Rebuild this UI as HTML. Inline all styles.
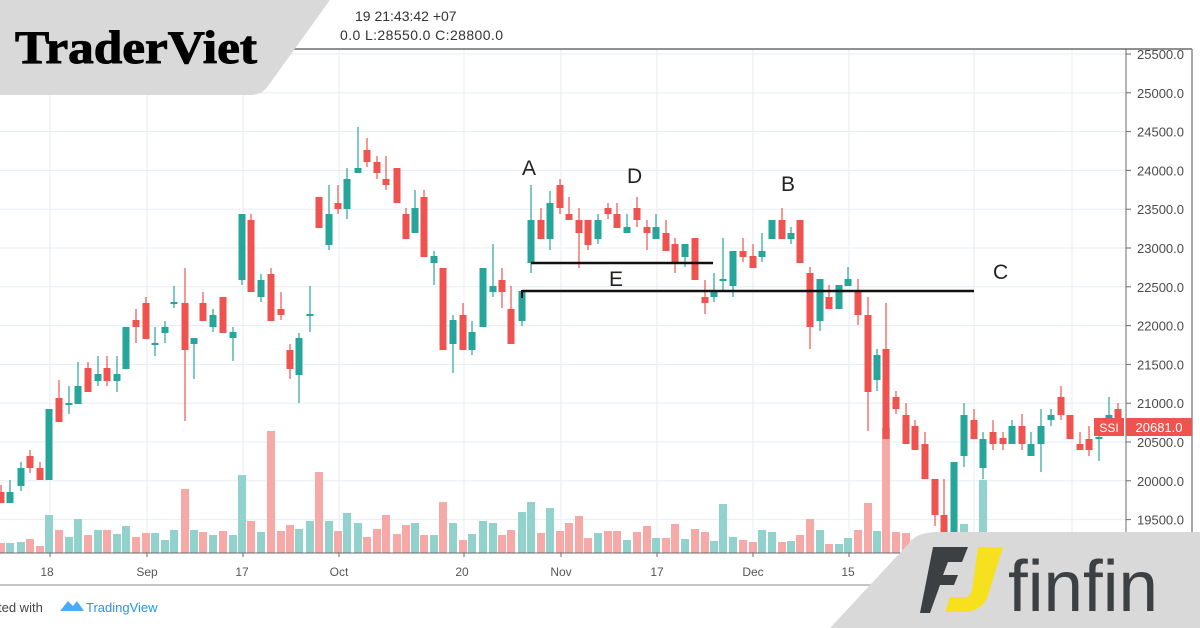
<!DOCTYPE html>
<html><head><meta charset="utf-8"><style>
html,body{margin:0;padding:0;background:#fff;width:1200px;height:628px;overflow:hidden;font-family:"Liberation Sans",sans-serif}
</style></head><body>
<svg id="s" width="1200" height="628" xmlns="http://www.w3.org/2000/svg" style="position:absolute;left:0;top:0">
<g id="grid" stroke="#e6edf2" stroke-width="1"></g>
<g id="vol"></g>
<g id="cnd"></g>
<line x1="280" y1="49" x2="1192" y2="49" stroke="#6b6b6b" stroke-width="1.5"/>
<line x1="1192" y1="49" x2="1192" y2="585" stroke="#8a8a8a" stroke-width="1.5"/>
<line x1="1126" y1="49" x2="1126" y2="585" stroke="#6b6b6b" stroke-width="1"/>
<line x1="0" y1="553" x2="1126" y2="553" stroke="#6b6b6b" stroke-width="1"/>
<line x1="0" y1="585" x2="1192" y2="585" stroke="#8a8a8a" stroke-width="1"/>
<g id="axis" font-family="Liberation Sans, sans-serif" font-size="13" fill="#4a4a4a"></g>
<g font-family="Liberation Sans, sans-serif" font-size="12" fill="#555" text-anchor="middle">
<text x="47" y="576">18</text><text x="147" y="576">Sep</text><text x="242" y="576">17</text><text x="339" y="576">Oct</text><text x="462" y="576">20</text><text x="561" y="576">Nov</text><text x="657" y="576">17</text><text x="753" y="576">Dec</text><text x="848" y="576">15</text>
</g>
<line x1="531" y1="263" x2="713" y2="263" stroke="#111" stroke-width="2.5"/>
<line x1="522" y1="291" x2="974" y2="291" stroke="#111" stroke-width="2.5"/>
<line x1="522" y1="290" x2="522" y2="298" stroke="#111" stroke-width="2"/>
<g font-family="Liberation Sans, sans-serif" font-size="21" fill="#222">
<text x="522" y="175">A</text><text x="627" y="183">D</text><text x="781" y="191">B</text><text x="609" y="286">E</text><text x="993" y="279">C</text>
</g>
<rect x="1094" y="418" width="30" height="18" fill="#ef5350"/>
<text x="1109" y="432" font-size="12" fill="#fff" text-anchor="middle" font-family="Liberation Sans, sans-serif">SSI</text>
<rect x="1126" y="418" width="66" height="18" fill="#ef5350"/>
<text x="1159" y="432" font-size="13" fill="#fff" text-anchor="middle" font-family="Liberation Sans, sans-serif">20681.0</text>
<text x="355" y="21" font-size="14" fill="#333" font-family="Liberation Sans, sans-serif">19 21:43:42 +07</text>
<text x="340" y="40" font-size="14" fill="#333" font-family="Liberation Sans, sans-serif" textLength="163">0.0 L:28550.0 C:28800.0</text>
<path d="M0 0 L330 0 L268 86 Q262 95 250 95 L0 95 Z" fill="#d9d9d9"/>
<text x="15" y="63" font-family="Liberation Serif, serif" font-weight="bold" font-size="47" fill="#000" stroke="#000" stroke-width="1" textLength="242" lengthAdjust="spacingAndGlyphs">TraderViet</text>
<text x="-2" y="612" font-size="13" fill="#444" font-family="Liberation Sans, sans-serif">ted with</text>
<path d="M60 611 L68 601 L73 606 L77 601 L84 611 Z" fill="#2196f3" opacity="0.8"/>
<text x="86" y="612" font-size="13" fill="#2196f3" font-family="Liberation Sans, sans-serif">TradingView</text>
<path d="M830 628 L912 540 Q918 533 935 532 L1200 532 L1200 628 Z" fill="#d9d9d9"/>
<path d="M933 547 L968 547 L962 562 L948 562 L943 575 L958 575 L954 585 L940 585 L930 613 L920 613 Z" fill="#3d4043"/>
<path d="M978 547 L1003 547 L988 595 Q984 610 965 612 L945 612 L950 597 L965 597 Q970 597 972 590 Z" fill="#f7e11e"/>
<text x="1008" y="611" font-family="Liberation Sans, sans-serif" font-size="72" fill="#3d4043" textLength="150" lengthAdjust="spacingAndGlyphs">finfin</text>
</svg>
<script>
var NS="http://www.w3.org/2000/svg";
function el(p,t,a){var e=document.createElementNS(NS,t);for(var k in a)e.setAttribute(k,a[k]);p.appendChild(e);return e;}
var grid=document.getElementById("grid"),axis=document.getElementById("axis");
for(var i=0;i<13;i++){var p=25500-i*500;var y=54+(25500-p)*0.0776;
 el(grid,"line",{x1:0,x2:1126,y1:y,y2:y});
 el(axis,"line",{x1:1126,x2:1131,y1:y,y2:y,stroke:"#6b6b6b"});
 var t=el(axis,"text",{x:1137,y:y+5});t.textContent=p.toFixed(1);}
[50,147,243,339,464,561,657,753,849,974,1072].forEach(function(x){el(grid,"line",{x1:x,x2:x,y1:49,y2:553});
 el(axis,"line",{x1:x,x2:x,y1:553,y2:557,stroke:"#6b6b6b"});});
var D=[[1,492,503,485,503,0],[10,492,503,480,503,1],[21,468,486,462,491,1],[30,456,468,450,473,0],[40,468,480,462,480,0],[49,409,480,409,480,1],[59,398,422,380,422,0],[69,403,405,386,414,1],[78,386,404,362,404,1],[88,368,392,362,392,0],[98,374,381,356,386,1],[107,368,381,356,386,0],[117,374,381,356,392,1],[126,327,369,327,369,1],[136,320,327,309,343,0],[146,303,339,297,339,0],[155,343,345,327,356,1],[165,327,333,321,343,1],[174,302,304,286,308,1],[185,303,350,268,421,0],[194,338,344,338,379,1],[203,303,321,292,321,0],[213,315,327,309,332,1],[223,297,333,297,333,0],[233,332,338,327,361,1],[242,214,280,214,285,1],[251,220,292,214,292,0],[261,280,297,274,302,1],[271,274,321,268,321,0],[281,309,315,292,320,0],[290,350,369,344,379,0],[299,338,375,333,403,1],[310,314,316,286,332,1],[319,197,228,197,228,0],[329,214,245,185,250,1],[338,203,209,185,214,0],[347,179,209,168,219,1],[358,168,173,127,173,1],[367,150,162,138,167,0],[377,162,173,156,179,0],[386,179,185,156,190,0],[397,168,203,168,203,0],
[406,214,239,208,239,0],[415,208,233,190,233,1],[424,197,257,190,257,0],[434,256,263,251,285,1],[443,268,350,268,350,0],[453,320,344,315,373,1],[463,315,350,303,350,0],[472,332,350,321,355,1],[483,268,327,268,327,1],[493,286,292,244,297,1],[502,280,292,268,308,0],[511,309,344,286,344,0],[522,291,321,291,326,1],[531,220,263,185,273,1],[541,220,239,208,239,0],[550,203,239,191,250,1],[560,185,208,179,214,0],[569,214,220,197,220,0],[579,220,233,208,268,0],[588,220,245,220,250,0],[598,220,239,214,244,1],[608,208,214,203,219,0],[617,214,228,203,228,0],[627,227,233,214,233,1],[637,208,220,197,227,0],[647,227,233,220,250,0],[656,227,239,214,239,1],[666,233,251,220,251,0],[675,244,263,238,273,0],[685,244,257,244,267,1],[695,238,280,238,280,0],[705,297,303,280,314,0],[714,292,297,273,302,1],[723,279,281,238,292,1],[733,251,286,251,297,1],[743,251,257,238,262,0],[753,256,268,244,268,0],[762,251,257,233,262,1],[772,220,239,220,239,1],[782,220,239,208,239,0],[791,233,239,227,244,1],[800,220,263,220,263,0],
[810,273,327,267,349,0],[820,279,321,279,331,1],[829,297,309,285,309,0],[839,285,309,285,309,1],[848,279,286,267,286,1],[858,291,315,279,325,0],[868,315,392,297,431,0],[877,355,380,349,391,1],[886,349,439,303,439,0],[896,397,409,391,414,0],[906,415,444,403,444,0],[915,426,450,420,450,0],[925,444,479,432,479,0],[935,479,515,479,526,0],[944,515,532,479,532,0],[954,462,532,462,532,1],[964,415,456,403,467,1],[974,420,439,409,439,0],[983,439,468,432,479,1],[993,432,444,420,450,0],[1003,438,444,432,450,0],[1012,426,444,420,444,1],[1022,426,444,414,450,0],[1031,444,456,432,456,1],[1041,426,444,409,472,1],[1051,415,420,409,426,1],[1061,397,415,386,420,0],[1070,415,439,415,439,0],[1080,444,450,432,450,0],[1089,439,450,426,456,0],[1099,437,439,426,461,1],[1109,415,420,397,432,1],[1118,409,420,403,420,0]];
var V=[543,543,542,539,546,515,530,537,519,535,530,530,534,526,537,533,533,540,530,489,530,532,535,531,535,475,521,532,431,531,525,529,521,472,521,531,513,523,537,529,515,534,
525,523,535,535,502,523,540,534,521,523,535,530,512,502,533,508,531,523,516,538,533,531,531,540,532,526,538,538,524,539,529,532,541,504,537,540,542,530,532,542,541,535,
519,530,544,544,538,530,503,531,428,532,533];
var vg=document.getElementById("vol"),cg=document.getElementById("cnd");
D.forEach(function(d,i){var g=d[5],col=g?"#26a69a":"#ef5350";
 var v=V[i]||540; if(i==100)v=524; if(i==102)v=480;
 el(vg,"rect",{x:d[0]-4,y:v,width:8,height:553-v,fill:g?"#92d2cc":"#f7a9a7"});
 el(cg,"line",{x1:d[0],x2:d[0],y1:d[3],y2:d[4],stroke:col,"stroke-width":1.2});
 el(cg,"rect",{x:d[0]-3.5,y:d[1],width:7,height:Math.max(1.5,d[2]-d[1]),fill:col});});
</script>
</body></html>
